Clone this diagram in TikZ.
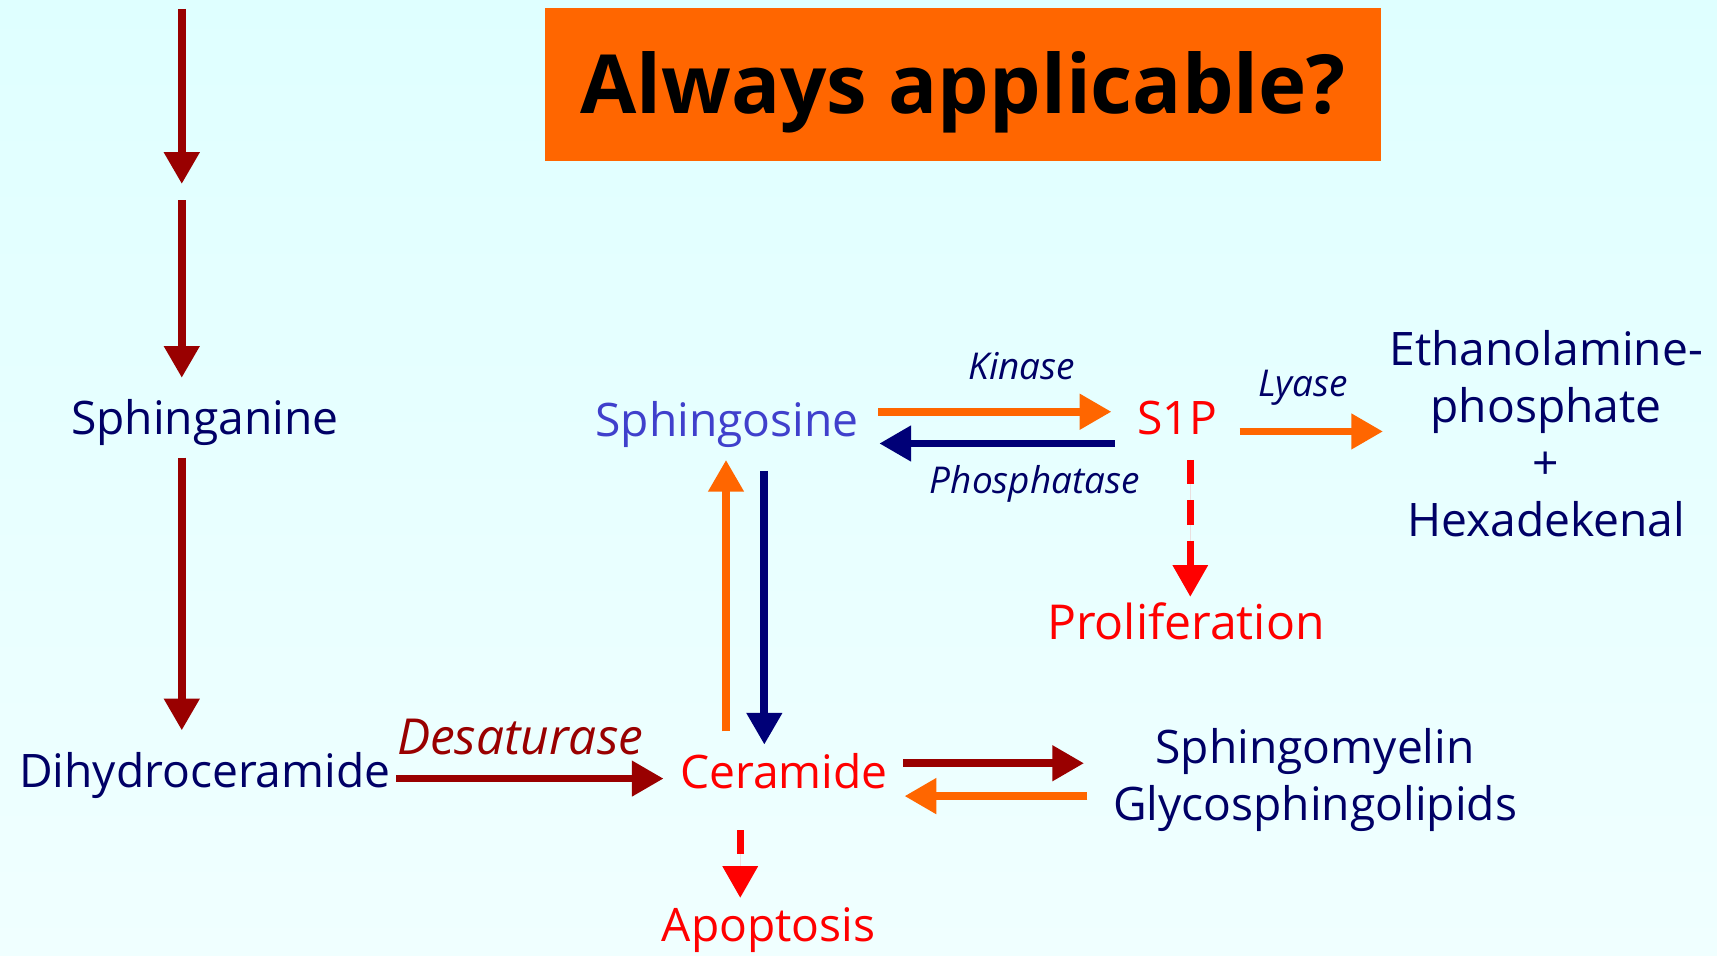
\documentclass[tikz,border=0pt]{standalone}
\usepackage{fontspec}
\setmainfont{Open Sans}
\usetikzlibrary{arrows.meta,calc}
\definecolor{dred}{HTML}{990000}
\definecolor{navy}{HTML}{000066}
\definecolor{navyarr}{HTML}{000077}
\definecolor{blu}{HTML}{4040CC}
\definecolor{org}{HTML}{FF6600}
\definecolor{rd}{HTML}{FF0000}
\definecolor{bgtop}{HTML}{DFFFFF}
\definecolor{bgmid}{HTML}{CCFFFF}
\definecolor{bgbot}{HTML}{F0FFFF}
\begin{document}
\begin{tikzpicture}[x=0.1mm,y=-0.1mm,
  lbl/.style={inner sep=0pt, font=\fontsize{12}{14.8}\selectfont, align=center},
  enz/.style={inner sep=0pt, font=\fontsize{9.6}{12}\selectfont\itshape, text=navy},
  arr/.style={line width=2pt, -{Triangle[width=3.1mm,length=2.9mm]}},
  dsh/.style={arr, line width=1.7pt, dash pattern=on 2.2mm off 1.5mm, draw=rd, fill=rd},
  titlebox/.style={fill=org, minimum width=76.3mm, minimum height=14mm, inner sep=0pt,
    text height=15.2pt, text depth=0pt,
    font=\fontsize{21.2}{24}\selectfont\bfseries, text=black}]
\useasboundingbox (0,0) rectangle (1568,873);
\shade[top color=bgtop, middle color=bgmid, bottom color=bgbot] (0,0) rectangle (1568,873);

% title
\node[titlebox] (title) at (879.5,77) {Always applicable?};

% labels
\node[lbl, text=navy] (sphn) at (187,386) {Sphinganine};
\node[lbl, text=navy] (dihy) at (187,708) {Dihydroceramide};
\node[lbl, text=rd]   (cer)  at (716,704) {Ceramide};
\node[lbl, text=rd]   (apo)  at (702,849) {Apoptosis};
\node[lbl, text=blu]  (sphs) at (664,388) {Sphingosine};
\node[lbl, text=rd]   (s1p)  at (1075,382) {S1P};
\node[lbl, font=\fontsize{12.5}{14.8}\selectfont, text=rd] (prol) at (1083,567) {Proliferation};
\node[lbl, text=navy] (eth)  at (1412,396) {Ethanolamine-\\phosphate\\+\\Hexadekenal};
\node[lbl, text=navy] (sm)   at (1201,712) {Sphingomyelin\\Glycosphingolipids};
\node[enz, font=\fontsize{12.9}{14}\selectfont\itshape, text=dred] (desat) at (475,673) {Desaturase};
\node[enz] (kin) at (933,334) {Kinase};
\node[enz] (pho) at (945,442) {Phosphatase};
\node[enz] (lya) at (1190,354) {Lyase};

% free ends at the top
\coordinate (a0) at (166,8);
\coordinate (a1) at (166,168);
\coordinate (a2) at (166,183);

% connectors
\draw[arr, dred] (a0) -- (a1);
\draw[arr, dred] (a2) -- ($(sphn)+(-21,-41)$);
\draw[arr, dred] ($(sphn)+(-21,32)$) -- ($(dihy)+(-21,-41)$);
\draw[arr, dred] ($(dihy)+(175,3)$) -- ($(cer)+(-110,7)$);
\draw[dsh] ($(cer)+(-40,54)$) -- ($(apo)+(-26,-29)$);
\draw[arr, org] ($(cer)+(-53,-36)$) -- ($(sphs)+(-1,32)$);
\draw[arr, navyarr] ($(sphs)+(34,42)$) -- ($(cer)+(-18,-24)$);
\draw[arr, org] ($(sphs)+(138,-12)$) -- ($(s1p)+(-60,-6)$);
\draw[arr, navyarr] ($(s1p)+(-57,23)$) -- ($(sphs)+(139,17)$);
\draw[arr, org] ($(s1p)+(57,12)$) -- ($(eth)+(-149,-2)$);
\draw[dsh] ($(s1p)+(12,38)$) -- ($(prol)+(4,-22)$);
\draw[arr, dred] ($(cer)+(109,-7)$) -- ($(sm)+(-211,-15)$);
\draw[arr, org] ($(sm)+(-208,15)$) -- ($(cer)+(110,23)$);
\end{tikzpicture}
\end{document}
